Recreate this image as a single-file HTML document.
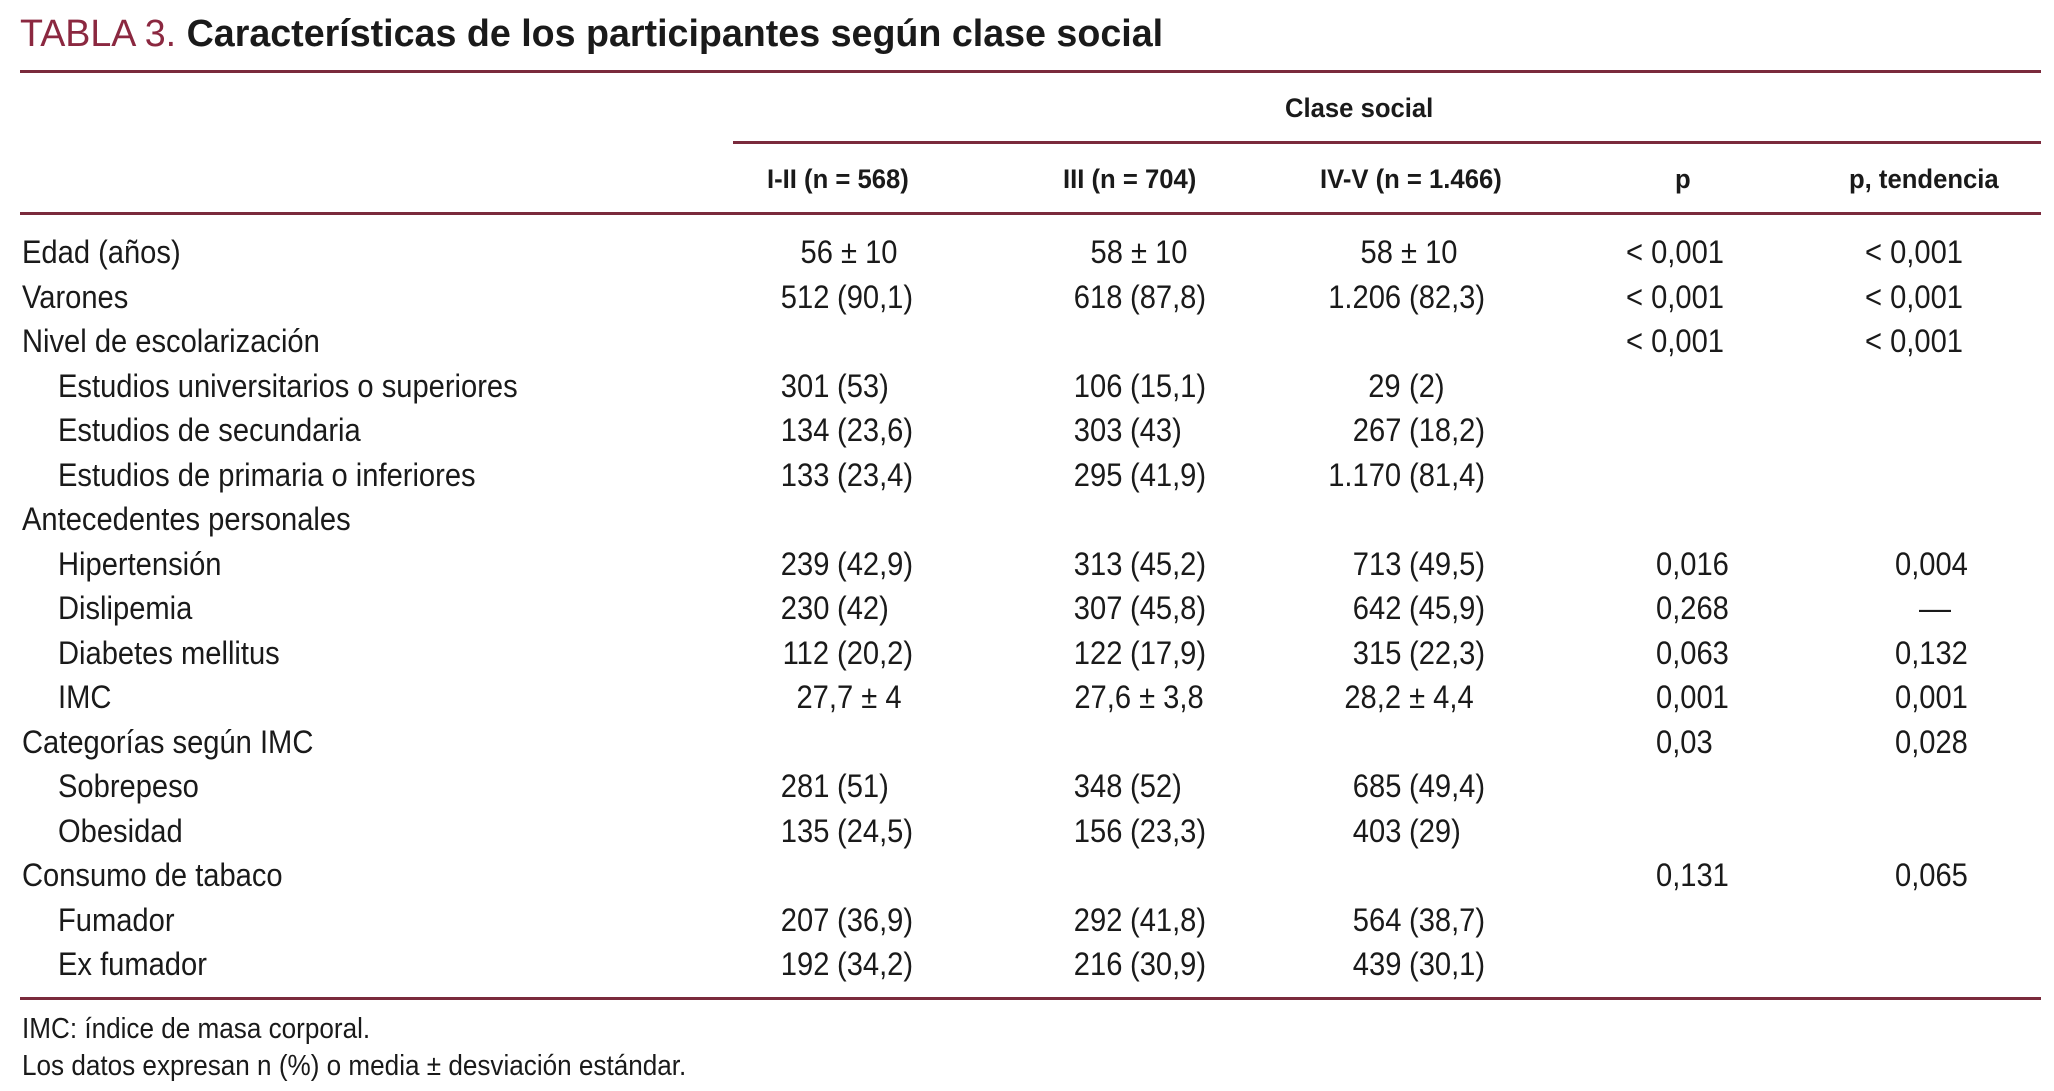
<!DOCTYPE html>
<html><head><meta charset="utf-8">
<style>
html,body{margin:0;padding:0;background:#fff;}
#page{position:relative;width:2054px;height:1091px;overflow:hidden;background:#fff;font-family:"Liberation Sans Narrow","Liberation Sans",sans-serif;color:#1a1a1a;}
.t{position:absolute;white-space:nowrap;font-size:32px;line-height:32px;}
.h{position:absolute;white-space:nowrap;font-size:27px;line-height:27px;font-weight:bold;transform:scaleX(0.95);transform-origin:left top;}
.rule{position:absolute;height:3px;background:#7a2a3c;}
</style></head>
<body>
<div id="page">
  <div class="t" style="left:20px;top:15px;font-size:38px;line-height:38px;font-family:'Liberation Sans',sans-serif;transform:scaleX(0.99);transform-origin:left top;"><span style="color:#8b2840">TABLA 3.</span> <b>Características de los participantes según clase social</b></div>
  <div class="rule" style="left:20px;top:70px;width:2021px;"></div>
  <div class="h" style="left:1285px;top:95px;">Clase social</div>
  <div class="rule" style="left:733px;top:141px;width:1308px;"></div>
  <div class="h" style="left:767px;top:166px;">I-II (n = 568)</div>
  <div class="h" style="left:1063px;top:166px;">III (n = 704)</div>
  <div class="h" style="left:1320px;top:166px;">IV-V (n = 1.466)</div>
  <div class="h" style="left:1675px;top:166px;">p</div>
  <div class="h" style="left:1849px;top:166px;">p, tendencia</div>
  <div class="rule" style="left:20px;top:212px;width:2021px;"></div>
  <div id="rows"></div>
  <div class="rule" style="left:20px;top:997px;width:2021px;"></div>
  <div class="t" style="left:22px;top:1013px;font-size:29px;transform:scaleX(0.9);transform-origin:left top;">IMC: índice de masa corporal.</div>
  <div class="t" style="left:22px;top:1050px;font-size:29px;transform:scaleX(0.9);transform-origin:left top;">Los datos expresan n (%) o media ± desviación estándar.</div>
</div>
<script>
const labels=["Edad (años)","Varones","Nivel de escolarización","Estudios universitarios o superiores","Estudios de secundaria","Estudios de primaria o inferiores","Antecedentes personales","Hipertensión","Dislipemia","Diabetes mellitus","IMC","Categorías según IMC","Sobrepeso","Obesidad","Consumo de tabaco","Fumador","Ex fumador"];
const indent=[0,0,0,1,1,1,0,1,1,1,1,0,1,1,0,1,1];
const col1=["56 ± 10","512 (90,1)","","301 (53)","134 (23,6)","133 (23,4)","","239 (42,9)","230 (42)","112 (20,2)","27,7 ± 4","","281 (51)","135 (24,5)","","207 (36,9)","192 (34,2)"];
const col2=["58 ± 10","618 (87,8)","","106 (15,1)","303 (43)","295 (41,9)","","313 (45,2)","307 (45,8)","122 (17,9)","27,6 ± 3,8","","348 (52)","156 (23,3)","","292 (41,8)","216 (30,9)"];
const col3=["58 ± 10","1.206 (82,3)","","29 (2)","267 (18,2)","1.170 (81,4)","","713 (49,5)","642 (45,9)","315 (22,3)","28,2 ± 4,4","","685 (49,4)","403 (29)","","564 (38,7)","439 (30,1)"];
const pval=["< 0,001","< 0,001","< 0,001","","","","","0,016","0,268","0,063","0,001","0,03","","","0,131","",""];
const ptend=["< 0,001","< 0,001","< 0,001","","","","","0,004","—","0,132","0,001","0,028","","","0,065","",""];
const rows=document.getElementById('rows');
const y0=236,dy=44.5;
const parenX=[837,1130,1409];
const meanCenter=[849,1139,1409];
const SX=0.91;
function mk(txt,cls){const d=document.createElement('div');d.className=cls;d.textContent=txt;rows.appendChild(d);return d;}
function left(d,x){d.style.left=x+'px';d.style.transformOrigin='left top';d.style.transform='scaleX('+SX+')';}
labels.forEach((lab,i)=>{
  const top=y0+i*dy;
  const l=mk(lab,'t');
  
  
  left(l,indent[i]?58:22);l.style.top=top+'px';
  [col1,col2,col3].forEach((col,c)=>{
    const v=col[i]; if(!v) return;
    const idx=v.indexOf(' (');
    if(idx>=0){
      const a=mk(v.slice(0,idx),'t');
      
      
      a.style.right=(2054-parenX[c]+8)+'px';a.style.top=top+'px';
      a.style.transformOrigin='right top';a.style.transform='scaleX('+SX+')';
      const b=mk(v.slice(idx+1),'t');
      
      
      left(b,parenX[c]);b.style.top=top+'px';
    } else {
      const a=mk(v,'t');
      
      
      a.style.left=meanCenter[c]+'px';a.style.top=top+'px';a.style.transform='translateX(-50%) scaleX('+SX+')';
    }
  });
  if(pval[i]){
    const p=mk(pval[i],'t');
    
    
    p.style.top=top+'px';
    left(p,pval[i].startsWith('<')?1626:1656);
  }
  if(ptend[i]){
    const p=mk(ptend[i],'t');
    
    
    p.style.top=top+'px';
    if(ptend[i]==='—'){p.style.left='1935px';p.style.transform='translateX(-50%)';}
    else left(p,ptend[i].startsWith('<')?1865:1895);
  }
});
</script>
</body></html>
